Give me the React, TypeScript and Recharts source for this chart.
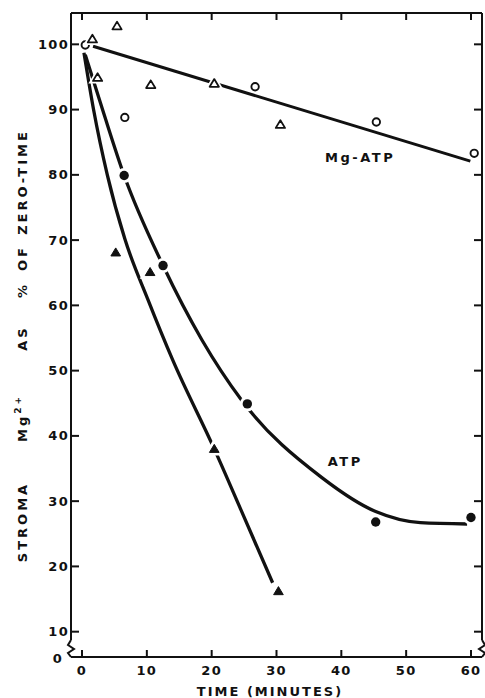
import React from 'react';
import { ComposedChart, Line, Scatter, XAxis, YAxis, ReferenceDot } from 'recharts';

// axis extents (bottom of y axis is a broken axis labelled 0)
const X_MIN = -1.7;
const X_MAX = 61.7;
const Y_MIN = 6.12;
const Y_MAX = 104.8;

const xTicks = [0, 10, 20, 30, 40, 50, 60];
const yTicks = [Y_MIN, 10, 20, 30, 40, 50, 60, 70, 80, 90, 100];

// Mg-ATP: open circles + open triangles, straight fitted line
const mgAtpCircles = [
  { x: 0.5, y: 99.9 },
  { x: 6.6, y: 88.8 },
  { x: 26.7, y: 93.5 },
  { x: 45.4, y: 88.1 },
  { x: 60.5, y: 83.3 },
];
const mgAtpTriangles = [
  { x: 1.6, y: 100.8 },
  { x: 5.4, y: 102.8 },
  { x: 2.4, y: 94.9 },
  { x: 10.6, y: 93.8 },
  { x: 20.4, y: 94.0 },
  { x: 30.6, y: 87.7 },
];
const mgAtpFit = [
  { x: 1.7, y: 99.7 },
  { x: 59.9, y: 82.1 },
];

// ATP: filled circles + filled triangles, each with a hand-drawn curve
const atpCircles = [
  { x: 6.5, y: 79.9 },
  { x: 12.5, y: 66.1 },
  { x: 25.5, y: 44.9 },
  { x: 45.3, y: 26.8 },
  { x: 60.0, y: 27.5 },
];
const atpCircleCurve = [
  { x: 0.5, y: 98.4 },
  { x: 3.2, y: 89.9 },
  { x: 6.5, y: 79.9 },
  { x: 12.5, y: 66.1 },
  { x: 18.5, y: 54.7 },
  { x: 24.6, y: 45.5 },
  { x: 37.0, y: 33.6 },
  { x: 45.3, y: 28.4 },
  { x: 52.2, y: 26.7 },
  { x: 59.4, y: 26.5 },
];
const atpTriangles = [
  { x: 5.2, y: 68.1 },
  { x: 10.5, y: 65.1 },
  { x: 20.4, y: 38.0 },
  { x: 30.3, y: 16.2 },
];
const atpTriangleCurve = [
  { x: 0.3, y: 98.7 },
  { x: 1.8, y: 89.9 },
  { x: 3.9, y: 80.0 },
  { x: 6.6, y: 70.2 },
  { x: 10.2, y: 60.8 },
  { x: 14.0, y: 51.6 },
  { x: 20.4, y: 38.0 },
  { x: 24.5, y: 28.7 },
  { x: 29.4, y: 17.5 },
];

const curveLabels = [
  { x: 42.9, y: 82.6, text: 'Mg-ATP' },
  { x: 40.6, y: 36.1, text: 'ATP' },
];

// words of the rotated y title, with the page y of each word's centre
const yTitleWords = [
  { text: 'STROMA', cy: 522 },
  { text: 'Mg', sup: '2+', cy: 418 },
  { text: 'AS', cy: 338 },
  { text: '%', cy: 290 },
  { text: 'OF', cy: 258 },
  { text: 'ZERO-TIME', cy: 182 },
];

const INK = '#111';
const FONT = '"DejaVu Sans", sans-serif';

const textStyle = {
  fontFamily: FONT,
  fontWeight: 700,
  fontSize: 13,
  letterSpacing: 1.3,
  fill: INK,
};

const isMin = (v: number) => Math.abs(v - Y_MIN) < 0.001;

const LeftTick = ({ x, y, payload }: any) => {
  if (isMin(payload.value)) {
    return (
      <g>
        <rect x={x - 5} y={y - 17} width={10} height={16} fill="#fff" />
        <path
          d={`M${x},${y - 17} L${x - 3},${y - 12} L${x + 3},${y - 8} L${x - 3},${y - 4} L${x},${y}`}
          stroke={INK}
          strokeWidth={2}
          fill="none"
        />
        <text x={x - 8} y={y + 1} textAnchor="end" dominantBaseline="central" style={textStyle}>
          0
        </text>
      </g>
    );
  }
  return (
    <g>
      <line x1={x} y1={y} x2={x + 8} y2={y} stroke={INK} strokeWidth={2} />
      <text x={x - 2} y={y} textAnchor="end" dominantBaseline="central" style={textStyle}>
        {payload.value}
      </text>
    </g>
  );
};

const RightTick = ({ x, y, payload }: any) => {
  if (isMin(payload.value)) {
    return (
      <g>
        <rect x={x - 5} y={y - 17} width={10} height={16} fill="#fff" />
        <path
          d={`M${x},${y - 17} L${x + 3},${y - 12} L${x - 3},${y - 8} L${x + 3},${y - 4} L${x},${y}`}
          stroke={INK}
          strokeWidth={2}
          fill="none"
        />
      </g>
    );
  }
  return <line x1={x} y1={y} x2={x - 8} y2={y} stroke={INK} strokeWidth={2} />;
};

const BottomTick = ({ x, y, payload }: any) => (
  <g>
    <line x1={x} y1={y} x2={x} y2={y - 7} stroke={INK} strokeWidth={2} />
    <text x={x} y={y + 13} textAnchor="middle" dominantBaseline="central" style={textStyle}>
      {payload.value}
    </text>
  </g>
);

const TopTick = ({ x, y }: any) => (
  <line x1={x} y1={y} x2={x} y2={y + 7} stroke={INK} strokeWidth={2} />
);

const XTitle = () => (
  <text x={270} y={696} textAnchor="middle" style={{ ...textStyle, letterSpacing: 2 }}>
    TIME (MINUTES)
  </text>
);

const YTitle = () => (
  <g>
    {yTitleWords.map((w) => (
      <text
        key={w.text}
        x={0}
        y={0}
        transform={`translate(27, ${w.cy}) rotate(-90)`}
        textAnchor="middle"
        style={{ ...textStyle, letterSpacing: 3 }}
      >
        <tspan>{w.text}</tspan>
        {w.sup && (
          <tspan dy={-6} fontSize={9}>
            {w.sup}
          </tspan>
        )}
      </text>
    ))}
  </g>
);

// markers get a white halo so the lines break around them, as in the print
const OpenCircle = ({ cx, cy }: any) => (
  <g>
    <circle cx={cx} cy={cy} r={6.5} fill="#fff" />
    <circle cx={cx} cy={cy} r={3.7} fill="#fff" stroke={INK} strokeWidth={1.9} />
  </g>
);

const FilledCircle = ({ cx, cy }: any) => (
  <g>
    <circle cx={cx} cy={cy} r={7.5} fill="#fff" />
    <circle cx={cx} cy={cy} r={4.7} fill={INK} />
  </g>
);

const triPoints = (cx: number, cy: number, s: number) =>
  `${cx},${cy - s} ${cx - s * 1.05},${cy + s * 0.75} ${cx + s * 1.05},${cy + s * 0.75}`;

const OpenTriangle = ({ cx, cy }: any) => (
  <g>
    <polygon points={triPoints(cx, cy, 4.6)} fill="#fff" stroke="#fff" strokeWidth={5} />
    <polygon points={triPoints(cx, cy, 4.4)} fill="#fff" stroke={INK} strokeWidth={1.8} strokeLinejoin="round" />
  </g>
);

const FilledTriangle = ({ cx, cy }: any) => (
  <g>
    <polygon points={triPoints(cx, cy, 4.8)} fill="#fff" stroke="#fff" strokeWidth={6} />
    <polygon points={triPoints(cx, cy, 4.6)} fill={INK} stroke={INK} strokeWidth={1} strokeLinejoin="round" />
  </g>
);

const CurveLabel = ({ cx, cy, payload }: any) => (
  <text x={cx} y={cy} textAnchor="middle" dominantBaseline="central" style={{ ...textStyle, letterSpacing: 2.5 }}>
    {payload.text}
  </text>
);

const axisLine = { stroke: INK, strokeWidth: 2 };

export default function App() {
  return (
    <div style={{ position: 'absolute', left: 0, top: 0, width: 485, height: 698, background: '#fff' }}>
      <ComposedChart width={485} height={698} margin={{ top: 12, right: 2, bottom: 0, left: 0 }}>
        <XAxis
          xAxisId={0}
          dataKey="x"
          type="number"
          domain={[X_MIN, X_MAX]}
          ticks={xTicks}
          interval={0}
          allowDataOverflow
          height={41}
          tickSize={0}
          tickMargin={0}
          tickLine={false}
          axisLine={axisLine}
          tick={(p: any) => <BottomTick {...p} />}
          label={{ content: () => <XTitle /> }}
        />
        <XAxis
          xAxisId="top"
          orientation="top"
          dataKey="x"
          type="number"
          domain={[X_MIN, X_MAX]}
          ticks={xTicks}
          interval={0}
          allowDataOverflow
          height={1}
          tickSize={0}
          tickMargin={0}
          tickLine={false}
          axisLine={axisLine}
          tick={(p: any) => <TopTick {...p} />}
        />
        <YAxis
          yAxisId={0}
          type="number"
          domain={[Y_MIN, Y_MAX]}
          ticks={yTicks}
          interval={0}
          allowDataOverflow
          width={71}
          tickSize={0}
          tickMargin={0}
          tickLine={false}
          axisLine={axisLine}
          tick={(p: any) => <LeftTick {...p} />}
          label={{ content: () => <YTitle /> }}
        />
        <YAxis
          yAxisId="right"
          orientation="right"
          type="number"
          domain={[Y_MIN, Y_MAX]}
          ticks={yTicks}
          interval={0}
          allowDataOverflow
          width={1}
          tickSize={0}
          tickMargin={0}
          tickLine={false}
          axisLine={axisLine}
          tick={(p: any) => <RightTick {...p} />}
        />

        <Line data={mgAtpFit} dataKey="y" type="linear" stroke={INK} strokeWidth={3} dot={false} isAnimationActive={false} />
        <Line data={atpCircleCurve} dataKey="y" type="monotone" stroke={INK} strokeWidth={3.3} dot={false} isAnimationActive={false} />
        <Line data={atpTriangleCurve} dataKey="y" type="monotone" stroke={INK} strokeWidth={3.3} dot={false} isAnimationActive={false} />

        <Scatter data={mgAtpCircles} dataKey="y" shape={(p: any) => <OpenCircle {...p} />} isAnimationActive={false} />
        <Scatter data={mgAtpTriangles} dataKey="y" shape={(p: any) => <OpenTriangle {...p} />} isAnimationActive={false} />
        <Scatter data={atpCircles} dataKey="y" shape={(p: any) => <FilledCircle {...p} />} isAnimationActive={false} />
        <Scatter data={atpTriangles} dataKey="y" shape={(p: any) => <FilledTriangle {...p} />} isAnimationActive={false} />

        {curveLabels.map((l) => (
          <ReferenceDot
            key={l.text}
            x={l.x}
            y={l.y}
            r={0}
            shape={(p: any) => <CurveLabel {...p} payload={l} />}
          />
        ))}
      </ComposedChart>
    </div>
  );
}
